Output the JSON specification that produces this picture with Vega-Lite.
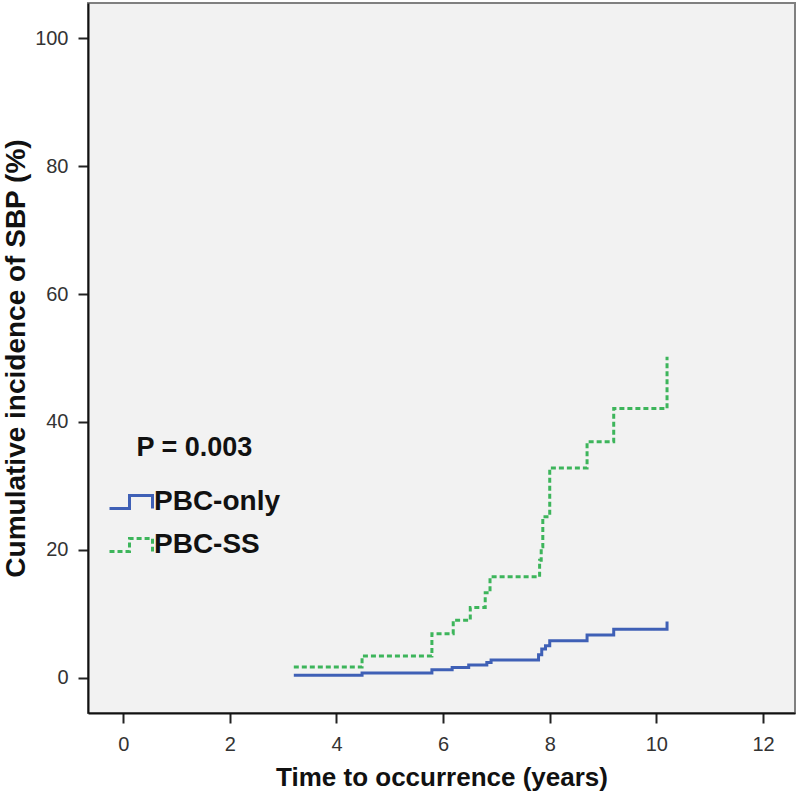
{
  "$schema": "https://vega.github.io/schema/vega-lite/v6.json",
  "width": 707,
  "height": 710,
  "autosize": {"type": "none"},
  "padding": {"left": 88, "top": 3, "right": 5, "bottom": 85},
  "background": "white",
  "config": {
    "font": "Liberation Sans",
    "view": {"fill": "#F2F2F2", "stroke": "#808080", "strokeWidth": 2},
    "axis": {
      "grid": false,
      "domainColor": "#111111",
      "domainWidth": 2,
      "tickColor": "#222222",
      "tickWidth": 2,
      "tickSize": 10,
      "labelFont": "Liberation Sans",
      "labelFontSize": 20,
      "labelColor": "#333333",
      "titleFont": "Liberation Sans",
      "titleFontWeight": "bold",
      "titleColor": "#111111"
    }
  },
  "datasets": {
    "curves": [
      {"group": "PBC-only", "time": 3.2, "pct": 0.4},
      {"group": "PBC-only", "time": 4.48, "pct": 0.75},
      {"group": "PBC-only", "time": 5.79, "pct": 1.25},
      {"group": "PBC-only", "time": 6.17, "pct": 1.6},
      {"group": "PBC-only", "time": 6.48, "pct": 2.0},
      {"group": "PBC-only", "time": 6.82, "pct": 2.4},
      {"group": "PBC-only", "time": 6.9, "pct": 2.8},
      {"group": "PBC-only", "time": 7.79, "pct": 3.6},
      {"group": "PBC-only", "time": 7.85, "pct": 4.5},
      {"group": "PBC-only", "time": 7.92, "pct": 5.0},
      {"group": "PBC-only", "time": 8.0, "pct": 5.8},
      {"group": "PBC-only", "time": 8.7, "pct": 6.7},
      {"group": "PBC-only", "time": 9.2, "pct": 7.6},
      {"group": "PBC-only", "time": 10.2, "pct": 8.8},
      {"group": "PBC-SS", "time": 3.2, "pct": 1.7},
      {"group": "PBC-SS", "time": 4.48, "pct": 3.4},
      {"group": "PBC-SS", "time": 5.79, "pct": 6.9},
      {"group": "PBC-SS", "time": 6.19, "pct": 9.0},
      {"group": "PBC-SS", "time": 6.51, "pct": 11.0},
      {"group": "PBC-SS", "time": 6.79, "pct": 13.3},
      {"group": "PBC-SS", "time": 6.88, "pct": 15.8},
      {"group": "PBC-SS", "time": 7.81, "pct": 18.4},
      {"group": "PBC-SS", "time": 7.84, "pct": 20.5},
      {"group": "PBC-SS", "time": 7.87, "pct": 25.2},
      {"group": "PBC-SS", "time": 8.0, "pct": 32.8},
      {"group": "PBC-SS", "time": 8.7, "pct": 36.9},
      {"group": "PBC-SS", "time": 9.2, "pct": 42.1},
      {"group": "PBC-SS", "time": 10.2, "pct": 50.2}
    ],
    "note": [
      {"time": 0.25, "pct": 35.9, "label": "P = 0.003"}
    ]
  },
  "layer": [
    {
      "data": {"name": "curves"},
      "mark": {"type": "line", "interpolate": "step-after", "strokeWidth": 3},
      "encoding": {
        "x": {
          "field": "time",
          "type": "quantitative",
          "scale": {"domain": [-0.66, 12.6], "nice": false, "zero": false},
          "axis": {"values": [0, 2, 4, 6, 8, 10, 12], "labelPadding": 11, "titlePadding": 10, "titleFontSize": 26},
          "title": "Time to occurrence (years)"
        },
        "y": {
          "field": "pct",
          "type": "quantitative",
          "scale": {"domain": [-5.5, 105.5], "nice": false, "zero": false},
          "axis": {"values": [0, 20, 40, 60, 80, 100], "labelPadding": 10, "titlePadding": 4, "titleFontSize": 28},
          "title": "Cumulative incidence of SBP (%)"
        },
        "color": {
          "field": "group",
          "type": "nominal",
          "scale": {"domain": ["PBC-only", "PBC-SS"], "range": ["#3F60B6", "#3DB55B"]},
          "legend": {
            "orient": "none",
            "legendX": 20,
            "legendY": 476,
            "title": null,
            "padding": 0,
            "rowPadding": 6,
            "symbolType": "M-1,0.3H-0.07V-0.3H1V0.3",
            "symbolSize": 1849,
            "symbolStrokeWidth": 3,
            "labelFont": "Liberation Sans",
            "labelFontSize": 28,
            "labelFontWeight": "bold",
            "labelColor": "#111111",
            "labelOffset": 0
          }
        },
        "strokeDash": {
          "field": "group",
          "type": "nominal",
          "scale": {"domain": ["PBC-only", "PBC-SS"], "range": [[1, 0], [5, 3]]},
          "legend": {
            "orient": "none",
            "legendX": 20,
            "legendY": 476,
            "title": null,
            "padding": 0,
            "rowPadding": 6,
            "symbolType": "M-1,0.3H-0.07V-0.3H1V0.3",
            "symbolSize": 1849,
            "symbolStrokeWidth": 3,
            "labelFont": "Liberation Sans",
            "labelFontSize": 28,
            "labelFontWeight": "bold",
            "labelColor": "#111111",
            "labelOffset": 0
          }
        }
      }
    },
    {
      "data": {"name": "note"},
      "mark": {"type": "text", "align": "left", "baseline": "middle", "fontSize": 27, "fontWeight": "bold", "font": "Liberation Sans", "color": "#111111"},
      "encoding": {
        "x": {"field": "time", "type": "quantitative", "title": "Time to occurrence (years)"},
        "y": {"field": "pct", "type": "quantitative", "title": "Cumulative incidence of SBP (%)"},
        "text": {"field": "label"}
      }
    }
  ]
}
